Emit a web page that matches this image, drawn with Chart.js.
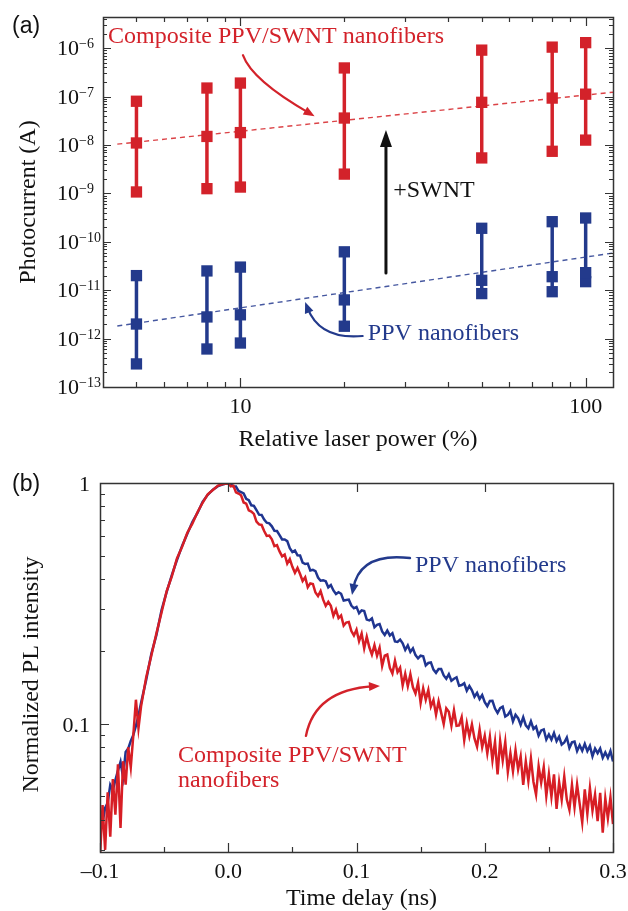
<!DOCTYPE html>
<html><head><meta charset="utf-8">
<script src="https://cdn.jsdelivr.net/npm/chart.js@4.4.1/dist/chart.umd.min.js"></script>
<style>
html,body{margin:0;padding:0;background:#fff;}
#wrap{position:relative;width:628px;height:911px;background:#fff;}
canvas{position:absolute;left:0;top:0;}
</style></head><body>
<div id="wrap"><canvas id="cA" width="628" height="911"></canvas><canvas id="cB" width="628" height="911"></canvas></div>
<script>
// ---------- Panel (a) data ----------
const powerPct = [5, 8, 10, 20, 50, 80, 100];
const compMid  = [1.1e-8, 1.5e-8, 1.8e-8, 3.6e-8, 7.6e-8, 9.3e-8, 1.12e-7];
const compHigh = [8.0e-8, 1.5e-7, 1.9e-7, 3.9e-7, 9.1e-7, 1.05e-6, 1.3e-6];
const compLow  = [1.07e-9, 1.25e-9, 1.35e-9, 2.5e-9, 5.4e-9, 7.4e-9, 1.26e-8];
const ppvMid   = [2.0e-12, 2.8e-12, 3.1e-12, 6.3e-12, 1.6e-11, 1.9e-11, 2.3e-11];
const ppvHigh  = [2.0e-11, 2.5e-11, 3.0e-11, 6.2e-11, 1.9e-10, 2.6e-10, 3.1e-10];
const ppvLow   = [3.0e-13, 6.1e-13, 8.1e-13, 1.8e-12, 8.5e-12, 9.3e-12, 1.5e-11];
const fitPower = [4.4, 120];
const compFit  = [1.04e-8, 1.23e-7];
const ppvFit   = [1.82e-12, 5.85e-11];
const yExpA = [-13, -12, -11, -10, -9, -8, -7, -6];
const xTickA = [10, 100];
const xTickLabelsA = ['10', '100'];

// ---------- Panel (b) data ----------
const timeNs = [
-0.100,-0.098,-0.096,-0.094,-0.092,-0.090,-0.088,-0.086,-0.084,-0.082,
-0.080,-0.078,-0.076,-0.074,-0.072,-0.070,-0.068,
-0.064,-0.060,-0.056,-0.052,-0.048,-0.044,-0.040,-0.036,-0.032,
-0.028,-0.024,-0.020,-0.016,-0.012,-0.008,-0.004,0.000,
0.002,0.004,0.006,0.008,0.010,0.012,0.014,0.016,0.018,0.020,
0.022,0.024,0.026,0.028,0.030,0.032,0.034,0.036,0.038,0.040,
0.042,0.044,0.046,0.048,0.050,0.052,0.054,0.056,0.058,0.060,
0.062,0.064,0.066,0.068,0.070,0.072,0.074,0.076,0.078,0.080,
0.082,0.084,0.086,0.088,0.090,0.092,0.094,0.096,0.098,0.100,
0.102,0.104,0.106,0.108,0.110,0.112,0.114,0.116,0.118,0.120,
0.122,0.124,0.126,0.128,0.130,0.132,0.134,0.136,0.138,0.140,
0.142,0.144,0.146,0.148,0.150,0.152,0.154,0.156,0.158,0.160,
0.162,0.164,0.166,0.168,0.170,0.172,0.174,0.176,0.178,0.180,
0.182,0.184,0.186,0.188,0.190,0.192,0.194,0.196,0.198,0.200,
0.202,0.204,0.206,0.208,0.210,0.212,0.214,0.216,0.218,0.220,
0.222,0.224,0.226,0.228,0.230,0.232,0.234,0.236,0.238,0.240,
0.242,0.244,0.246,0.248,0.250,0.252,0.254,0.256,0.258,0.260,
0.262,0.264,0.266,0.268,0.270,0.272,0.274,0.276,0.278,0.280,
0.282,0.284,0.286,0.288,0.290,0.292,0.294,0.296,0.298,0.300];
const plPPV = [
0.0356,0.0390,0.0448,0.0470,0.0558,0.0530,0.0585,0.0640,0.0696,0.0600,
0.0765,0.0790,0.0850,0.0900,0.0981,0.108,0.122,
0.152,0.195,0.234,0.297,0.353,0.415,0.479,0.548,0.614,
0.689,0.751,0.835,0.893,0.938,0.970,0.987,1.0,
0.988,0.968,0.967,0.927,0.916,0.905,0.860,0.848,0.808,0.804,
0.771,0.739,0.737,0.705,0.684,0.680,0.661,0.633,0.632,0.608,
0.583,0.583,0.574,0.536,0.517,0.525,0.501,0.500,0.467,0.461,
0.463,0.433,0.436,0.431,0.405,0.393,0.395,0.391,0.369,0.377,
0.358,0.346,0.352,0.347,0.325,0.327,0.328,0.310,0.302,0.306,
0.288,0.296,0.294,0.271,0.269,0.274,0.252,0.258,0.260,0.242,
0.234,0.244,0.233,0.238,0.220,0.219,0.224,0.216,0.203,0.212,
0.199,0.206,0.193,0.187,0.192,0.191,0.175,0.179,0.180,0.168,
0.163,0.169,0.169,0.159,0.154,0.161,0.151,0.154,0.156,0.144,
0.145,0.1475,0.1375,0.1437,0.1378,0.1296,0.1345,0.1269,0.1318,0.1232,
0.1184,0.1245,0.1248,0.1158,0.1111,0.1162,0.1180,0.1073,0.1090,0.1133,
0.1025,0.1091,0.1057,0.0991,0.1065,0.0986,0.0958,0.1025,0.0953,0.0975,
0.0895,0.0940,0.0949,0.0862,0.0904,0.0861,0.0917,0.0849,0.0886,0.0821,
0.0837,0.0878,0.0794,0.0838,0.0844,0.0772,0.0815,0.0774,0.0826,0.0771,
0.0810,0.0734,0.0790,0.0756,0.0790,0.0724,0.0762,0.0723,0.0772,0.0698];
const plComp = [
0.028,0.0460,0.0300,0.0520,0.0340,0.0590,0.0420,0.0680,0.0370,0.0700,
0.0560,0.0800,0.0660,0.0900,0.126,0.096,0.118,
0.156,0.192,0.238,0.290,0.356,0.410,0.486,0.543,0.620,
0.678,0.756,0.828,0.898,0.935,0.975,0.990,0.995,
0.969,0.975,0.914,0.904,0.889,0.830,0.821,0.770,0.761,0.744,
0.691,0.673,0.670,0.632,0.603,0.605,0.584,0.547,0.552,0.520,
0.496,0.505,0.463,0.483,0.449,0.424,0.444,0.419,0.392,0.406,
0.369,0.383,0.381,0.351,0.339,0.356,0.328,0.309,0.321,0.309,
0.281,0.298,0.275,0.282,0.256,0.2635,0.265,0.243,0.233,0.246,
0.2205,0.237,0.206,0.230,0.208,0.194,0.212,0.192,0.207,0.174,
0.192,0.194,0.171,0.162,0.183,0.164,0.171,0.1445,0.1616,0.1435,
0.1608,0.1419,0.1337,0.1483,0.1222,0.1406,0.1261,0.1382,0.1180,0.1256,
0.1092,0.1240,0.1114,0.0999,0.1160,0.1122,0.0982,0.1139,0.0982,0.0986,
0.1065,0.0856,0.1006,0.0888,0.0995,0.0870,0.0805,0.0947,0.0801,0.0893,
0.0755,0.0884,0.0706,0.0842,0.0617,0.0849,0.0705,0.0841,0.0633,0.0755,
0.0636,0.0778,0.0648,0.0733,0.0558,0.0699,0.0580,0.0719,0.0574,0.0509,
0.0668,0.0571,0.0662,0.0503,0.0618,0.0499,0.0618,0.0444,0.0573,0.0485,
0.0605,0.0485,0.0440,0.0559,0.0451,0.0561,0.0467,0.0390,0.0535,0.0423,
0.0542,0.0437,0.0509,0.0395,0.0517,0.0354,0.0490,0.0406,0.0496,0.0384];
const xTickB = [-0.1, 0, 0.1, 0.2, 0.3];
const xTickLabelsB = ['\u20130.1', '0.0', '0.1', '0.2', '0.3'];
const yTickB = [1, 0.1];
const yTickLabelsB = ['1', '0.1'];

// ---------- styles ----------
const RED = '#d3222a';
const BLUE = '#233a8c';
const SERIF = '"Liberation Serif","Times New Roman",Times,serif';
const SANS = '"Liberation Sans",Arial,Helvetica,sans-serif';
const FRAME = '#333';

const pts = (xs, ys) => xs.map((x, i) => ({x: x, y: ys[i]}));

function tickLinesX(ctx, sc, area, vals, len, top, bottom) {
  vals.forEach(v => {
    const p = Math.round(sc.getPixelForValue(v)) + 0.5;
    if (bottom) { ctx.moveTo(p, area.bottom); ctx.lineTo(p, area.bottom - len); }
    if (top) { ctx.moveTo(p, area.top); ctx.lineTo(p, area.top + len); }
  });
}
function tickLinesY(ctx, sc, area, vals, len, left, right) {
  vals.forEach(v => {
    const p = Math.round(sc.getPixelForValue(v)) + 0.5;
    if (left) { ctx.moveTo(area.left, p); ctx.lineTo(area.left + len, p); }
    if (right) { ctx.moveTo(area.right, p); ctx.lineTo(area.right - len, p); }
  });
}
function curvedArrow(ctx, p0, c, p1, color, lw, headLen, headW) {
  ctx.save();
  ctx.strokeStyle = color; ctx.fillStyle = color; ctx.lineWidth = lw; ctx.lineCap = 'round';
  const ang = Math.atan2(p1[1] - c[1], p1[0] - c[0]);
  const ex = p1[0] - Math.cos(ang) * headLen * 0.6, ey = p1[1] - Math.sin(ang) * headLen * 0.6;
  ctx.beginPath(); ctx.moveTo(p0[0], p0[1]); ctx.quadraticCurveTo(c[0], c[1], ex, ey); ctx.stroke();
  const bx = p1[0] - headLen * Math.cos(ang), by = p1[1] - headLen * Math.sin(ang);
  ctx.beginPath(); ctx.moveTo(p1[0], p1[1]);
  ctx.lineTo(bx + headW / 2 * Math.sin(ang), by - headW / 2 * Math.cos(ang));
  ctx.lineTo(bx - headW / 2 * Math.sin(ang), by + headW / 2 * Math.cos(ang));
  ctx.closePath(); ctx.fill();
  ctx.restore();
}
function txt(ctx, s, x, y, font, color, align) {
  ctx.save(); ctx.font = font; ctx.fillStyle = color; ctx.textAlign = align || 'left';
  ctx.textBaseline = 'alphabetic'; ctx.fillText(s, x, y); ctx.restore();
}

// ---------- Panel (a) plugin ----------
const panelA = {
  id: 'panelA',
  beforeDatasetsDraw(chart) {
    const {ctx, scales: {x, y}} = chart;
    ctx.save(); ctx.lineWidth = 3.5;
    [[compLow, compHigh, RED], [ppvLow, ppvHigh, BLUE]].forEach(([lo, hi, c]) => {
      ctx.strokeStyle = c;
      powerPct.forEach((p, i) => {
        const px = x.getPixelForValue(p);
        ctx.beginPath(); ctx.moveTo(px, y.getPixelForValue(lo[i])); ctx.lineTo(px, y.getPixelForValue(hi[i])); ctx.stroke();
      });
    });
    ctx.restore();
  },
  afterDraw(chart) {
    const {ctx, chartArea: a, scales: {x, y}} = chart;
    ctx.save(); ctx.strokeStyle = FRAME; ctx.lineWidth = 1.2; ctx.beginPath();
    tickLinesX(ctx, x, a, xTickA, 9, true, true);
    tickLinesX(ctx, x, a, [5, 6, 7, 8, 9, 20, 30, 40, 50, 60, 70, 80, 90], 5, true, true);
    tickLinesY(ctx, y, a, yExpA.map(e => Math.pow(10, e)), 8, true, true);
    const minors = [];
    yExpA.forEach(e => { for (let k = 2; k <= 9; k++) { const v = k * Math.pow(10, e); if (v < y.max) minors.push(v); } });
    tickLinesY(ctx, y, a, minors, 4, true, true);
    ctx.stroke(); ctx.restore();
    ctx.save(); ctx.strokeStyle = FRAME; ctx.lineWidth = 1.5;
    ctx.strokeRect(a.left + 0.5, a.top + 0.5, a.right - a.left, a.bottom - a.top); ctx.restore();
    yExpA.forEach(e => {
      const py = y.getPixelForValue(Math.pow(10, e));
      txt(ctx, '10', a.left - 24, py + 7, '22px ' + SERIF, '#111', 'right');
      txt(ctx, '\u2212' + Math.abs(e), a.left - 24, py, '14px ' + SERIF, '#111', 'left');
    });
    xTickA.forEach((v, i) => txt(ctx, xTickLabelsA[i], x.getPixelForValue(v), a.bottom + 26, '22px ' + SERIF, '#111', 'center'));
    txt(ctx, 'Relative laser power (%)', (a.left + a.right) / 2, a.bottom + 59, '24px ' + SERIF, '#111', 'center');
    ctx.save(); ctx.translate(a.left - 68, (a.top + a.bottom) / 2); ctx.rotate(-Math.PI / 2);
    txt(ctx, 'Photocurrent (A)', 0, 0, '24px ' + SERIF, '#111', 'center'); ctx.restore();
    txt(ctx, '(a)', 12, 33, '23px ' + SANS, '#111', 'left');
    const P = (vx, vy) => [x.getPixelForValue(vx), y.getPixelForValue(vy)];
    let q = P(4.135, 1.27e-6);
    txt(ctx, 'Composite PPV/SWNT nanofibers', q[0], q[1], '24px ' + SERIF, RED, 'left');
    curvedArrow(ctx, P(10.17, 7.16e-7), P(10.8, 2.18e-7), P(16.4, 3.94e-8), RED, 2.2, 11, 9);
    curvedArrow(ctx, P(26.4, 2.26e-11), P(26.4, 1e-9), P(26.4, 2.03e-8), '#111', 3, 17, 12);
    q = P(27.7, 8.37e-10);
    txt(ctx, '+SWNT', q[0], q[1], '24px ' + SERIF, '#111', 'left');
    q = P(23.4, 9.34e-13);
    txt(ctx, 'PPV nanofibers', q[0], q[1], '24px ' + SERIF, BLUE, 'left');
    curvedArrow(ctx, P(22.6, 1.13e-12), P(17.0, 9.34e-13), P(15.4, 5.69e-12), BLUE, 2.2, 11, 9);
  }
};

const sqr = (data, color) => ({data: data, pointStyle: 'rect', pointRadius: 8, pointHoverRadius: 8,
  backgroundColor: color, borderColor: color, borderWidth: 0, showLine: false, order: 1});

new Chart(document.getElementById('cA'), {
  type: 'scatter',
  data: {datasets: [
    {data: pts(fitPower, compFit), showLine: true, borderColor: 'rgba(215,45,50,0.9)', borderWidth: 1.4, borderDash: [5, 4], pointRadius: 0, order: 5},
    {data: pts(fitPower, ppvFit), showLine: true, borderColor: 'rgba(50,70,150,0.9)', borderWidth: 1.4, borderDash: [5, 4], pointRadius: 0, order: 5},
    sqr(pts(powerPct, compMid), RED), sqr(pts(powerPct, compHigh), RED), sqr(pts(powerPct, compLow), RED),
    sqr(pts(powerPct, ppvMid), BLUE), sqr(pts(powerPct, ppvHigh), BLUE), sqr(pts(powerPct, ppvLow), BLUE)
  ]},
  options: {
    responsive: false, devicePixelRatio: 1, animation: false, events: [],
    layout: {padding: {top: 17, right: 15, left: 0, bottom: 0}},
    plugins: {legend: {display: false}, tooltip: {enabled: false}},
    scales: {
      x: {type: 'logarithmic', min: 4, max: 120, grid: {display: false}, border: {display: false}, ticks: {display: false},
          afterFit: s => { s.height = 911 - 387; }},
      y: {type: 'logarithmic', min: 1e-13, max: 4.4e-6, grid: {display: false}, border: {display: false}, ticks: {display: false},
          afterFit: s => { s.width = 103; }}
    }
  },
  plugins: [panelA]
});

// ---------- Panel (b) plugin ----------
const panelB = {
  id: 'panelB',
  afterDraw(chart) {
    const {ctx, chartArea: a, scales: {x, y}} = chart;
    ctx.save(); ctx.strokeStyle = FRAME; ctx.lineWidth = 1.2; ctx.beginPath();
    tickLinesX(ctx, x, a, xTickB, 9, false, true);
    tickLinesX(ctx, x, a, [0, 0.1, 0.2], 9, true, false);
    tickLinesX(ctx, x, a, [-0.05, 0.05, 0.15, 0.25], 5, false, true);
    tickLinesY(ctx, y, a, yTickB, 9, true, false);
    tickLinesY(ctx, y, a, [0.03, 0.04, 0.05, 0.06, 0.07, 0.08, 0.09, 0.2, 0.3, 0.4, 0.5, 0.6, 0.7, 0.8, 0.9], 5, true, false);
    ctx.stroke(); ctx.restore();
    ctx.save(); ctx.strokeStyle = FRAME; ctx.lineWidth = 1.5;
    ctx.strokeRect(a.left + 0.5, a.top + 0.5, a.right - a.left, a.bottom - a.top); ctx.restore();
    yTickB.forEach((v, i) => txt(ctx, yTickLabelsB[i], a.left - 10, y.getPixelForValue(v) + 8, '22px ' + SERIF, '#111', 'right'));
    xTickB.forEach((v, i) => txt(ctx, xTickLabelsB[i], x.getPixelForValue(v), a.bottom + 26, '22px ' + SERIF, '#111', 'center'));
    txt(ctx, 'Time delay (ns)', (a.left + a.right) / 2 + 5, a.bottom + 53, '24px ' + SERIF, '#111', 'center');
    ctx.save(); ctx.translate(a.left - 62, (a.top + a.bottom) / 2 + 7); ctx.rotate(-Math.PI / 2);
    txt(ctx, 'Normalized PL intensity', 0, 0, '24px ' + SERIF, '#111', 'center'); ctx.restore();
    txt(ctx, '(b)', 12, 491, '23px ' + SANS, '#111', 'left');
    const P = (vx, vy) => [x.getPixelForValue(vx), y.getPixelForValue(vy)];
    let q = P(0.1456, 0.427);
    txt(ctx, 'PPV nanofibers', q[0], q[1], '24px ' + SERIF, BLUE, 'left');
    curvedArrow(ctx, P(0.1417, 0.488), P(0.1027, 0.517), P(0.0965, 0.343), BLUE, 2.4, 11, 9);
    q = P(-0.0392, 0.0696);
    txt(ctx, 'Composite PPV/SWNT', q[0], q[1], '24px ' + SERIF, RED, 'left');
    q = P(-0.0392, 0.0548);
    txt(ctx, 'nanofibers', q[0], q[1], '24px ' + SERIF, RED, 'left');
    curvedArrow(ctx, P(0.0606, 0.0892), P(0.0676, 0.1384), P(0.1183, 0.1438), RED, 2.4, 11, 9);
  }
};

new Chart(document.getElementById('cB'), {
  type: 'line',
  data: {datasets: [
    {data: pts(timeNs, plComp), borderColor: '#d71e25', borderWidth: 2.5, pointRadius: 0, tension: 0, order: 0},
    {data: pts(timeNs, plPPV), borderColor: '#1f3590', borderWidth: 2.5, pointRadius: 0, tension: 0, order: 1}
  ]},
  options: {
    responsive: false, devicePixelRatio: 1, animation: false, events: [],
    layout: {padding: {top: 483, right: 15, left: 0, bottom: 0}},
    plugins: {legend: {display: false}, tooltip: {enabled: false}},
    scales: {
      x: {type: 'linear', min: -0.1, max: 0.3, grid: {display: false}, border: {display: false}, ticks: {display: false},
          afterFit: s => { s.height = 911 - 852; }},
      y: {type: 'logarithmic', min: 0.0294, max: 1, grid: {display: false}, border: {display: false}, ticks: {display: false},
          afterFit: s => { s.width = 100; }}
    }
  },
  plugins: [panelB]
});
</script>
</body></html>
